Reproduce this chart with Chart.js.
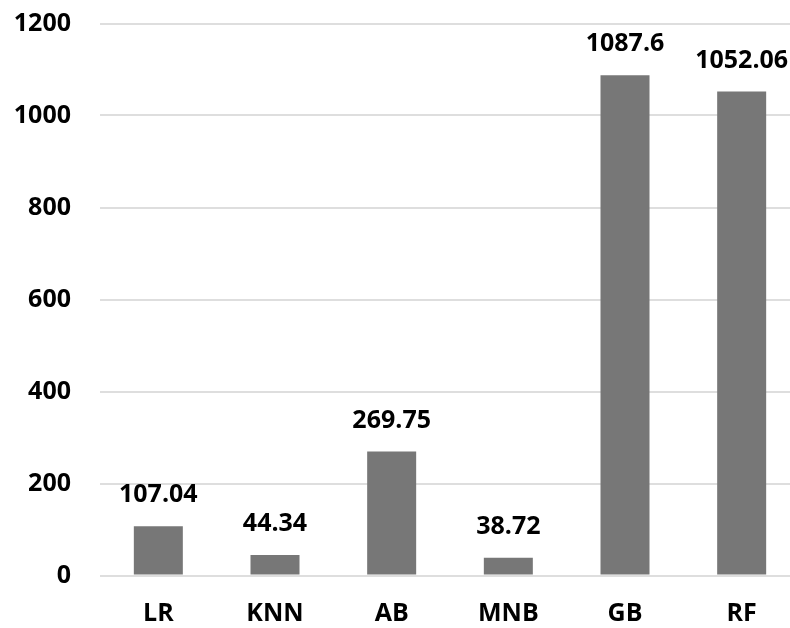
<!DOCTYPE html>
<html>
<head>
<meta charset="utf-8">
<script src="https://cdn.jsdelivr.net/npm/chart.js@4/dist/chart.umd.min.js"></script>
<style>
  html, body { margin: 0; padding: 0; background: #fff; overflow: hidden; }
  #wrap { width: 800px; height: 628px; }
</style>
</head>
<body>
<div id="wrap"><canvas id="c" width="800" height="628"></canvas></div>
<script>
// Model names and their measured values
const categories = ['LR', 'KNN', 'AB', 'MNB', 'GB', 'RF'];
const values = [107.04, 44.34, 269.75, 38.72, 1087.6, 1052.06];
const valueLabels = ['107.04', '44.34', '269.75', '38.72', '1087.6', '1052.06'];
const yTicks = [0, 200, 400, 600, 800, 1000, 1200];

const FONT = '"Open Sans", "Noto Sans", sans-serif';

// Draws each bar's value just above the bar
const barValueLabels = {
  id: 'barValueLabels',
  afterDatasetsDraw(chart) {
    const ctx = chart.ctx;
    const meta = chart.getDatasetMeta(0);
    ctx.save();
    ctx.font = 'bold 25px ' + FONT;
    ctx.fillStyle = '#000';
    ctx.textAlign = 'center';
    ctx.textBaseline = 'middle';
    meta.data.forEach((bar, i) => {
      ctx.fillText(valueLabels[i], bar.x, bar.y - 31);
    });
    ctx.restore();
  }
};

new Chart(document.getElementById('c'), {
  type: 'bar',
  data: {
    labels: categories,
    datasets: [{
      data: values,
      backgroundColor: '#777777',
      borderWidth: 0,
      barPercentage: 1,
      categoryPercentage: 0.42
    }]
  },
  options: {
    responsive: false,
    animation: false,
    devicePixelRatio: 1,
    layout: { padding: { top: 23.5, right: 0, left: 0, bottom: 0 } },
    plugins: {
      legend: { display: false },
      tooltip: { enabled: false }
    },
    scales: {
      x: {
        grid: { display: false, drawTicks: false },
        border: { display: false },
        ticks: {
          color: '#000',
          font: { family: FONT, size: 25, weight: 'bold' },
          padding: 23
        },
        afterFit(scale) {
          scale.height = 52.5;
          scale.paddingLeft = 0;
          scale.paddingRight = 0;
        }
      },
      y: {
        min: 0,
        max: 1200,
        afterBuildTicks(scale) { scale.ticks = yTicks.map(v => ({ value: v })); },
        grid: { color: '#dedede', lineWidth: 2, drawTicks: false },
        border: { display: false },
        ticks: {
          color: '#000',
          font: { family: FONT, size: 25, weight: 'bold' },
          padding: 29,
          callback: (v) => String(v)
        },
        afterFit(scale) {
          scale.width = 100;
          scale.paddingTop = 0;
          scale.paddingBottom = 0;
        }
      }
    }
  },
  plugins: [barValueLabels]
});
</script>
</body>
</html>
